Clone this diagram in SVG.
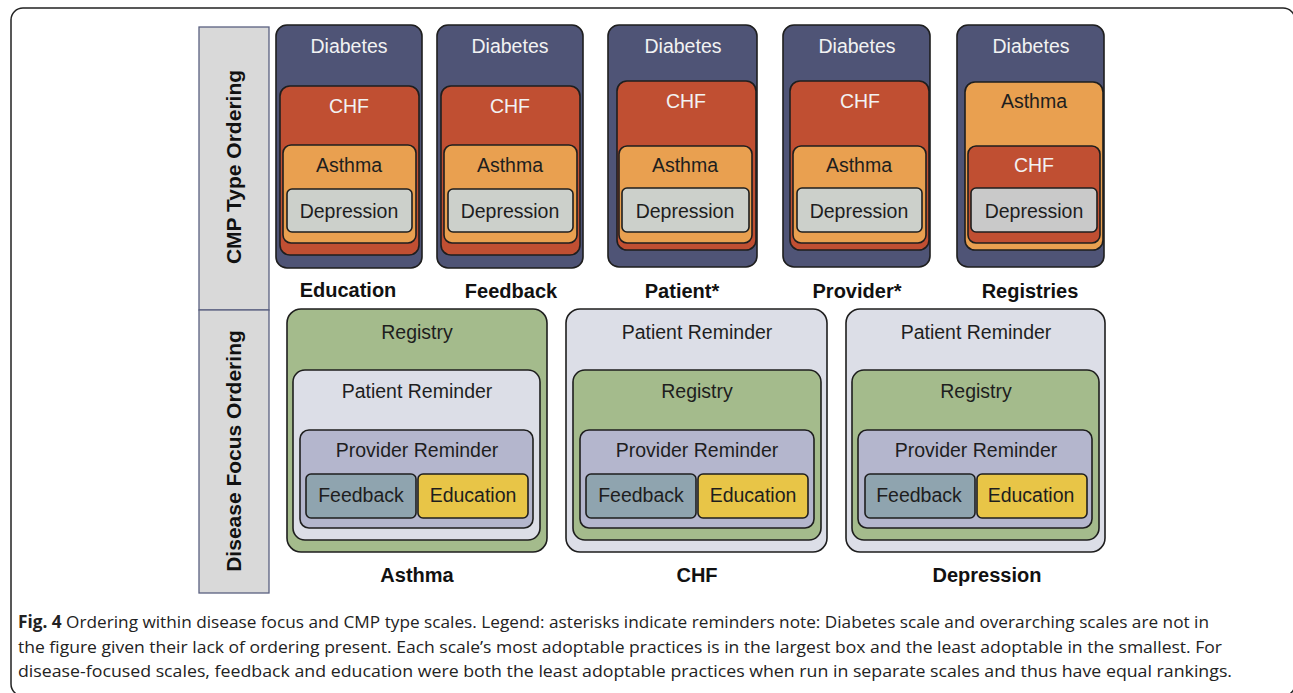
<svg xmlns="http://www.w3.org/2000/svg" width="1293" height="693" viewBox="0 0 1293 693">
<style>
text{font-family:"Liberation Sans",Arial,sans-serif;font-size:19.5px;text-anchor:middle}
.b{stroke:#1e1e1e;stroke-width:1.6}
.dia{fill:#4f5476}.chf{fill:#c04f32}.ast{fill:#e9a050}.dep{fill:#ccd0cb}.dep2{fill:#c9c9c9}
.reg{fill:#a4bb8c}.pat{fill:#dcdee7}.pro{fill:#b4b6cd}.fb{fill:#8fa4af}.ed{fill:#e8c547}
.w{fill:#f2f2f2}.k{fill:#1e1e1e}
.lbl{font-weight:bold;font-size:20px;fill:#111}
.side{fill:#d9d9d9;stroke:#5a6080;stroke-width:1.3}
.vt{font-weight:bold;font-size:21px;fill:#111}
.cap{font-family:"Open Sans","Noto Sans",sans-serif;font-size:17px;text-anchor:start;fill:#222}
</style>
<rect x="11" y="8" width="1284" height="688" rx="12" fill="#fff" stroke="#222" stroke-width="1.5"/>

<g id="side-labels">
<rect class="side" x="199" y="27" width="70" height="283"/>
<rect class="side" x="199" y="310" width="70" height="283"/>
<text class="vt" transform="translate(241,167) rotate(-90)">CMP Type Ordering</text>
<text class="vt" transform="translate(241,451) rotate(-90)">Disease Focus Ordering</text>
</g>

<g id="education">
<rect class="b dia" x="276" y="25" width="146" height="243" rx="11"/>
<text class="w" x="349" y="53">Diabetes</text>
<rect class="b chf" x="280" y="86" width="139" height="169" rx="10"/>
<text class="w" x="349" y="113">CHF</text>
<rect class="b ast" x="283" y="145" width="133" height="98" rx="8"/>
<text class="k" x="349" y="172">Asthma</text>
<rect class="b dep" x="287" y="189" width="125" height="43" rx="5"/>
<text class="k" x="349" y="218">Depression</text>
<text class="lbl" x="348" y="297">Education</text>
</g>

<g id="feedback">
<rect class="b dia" x="437" y="25" width="146" height="243" rx="11"/>
<text class="w" x="510" y="53">Diabetes</text>
<rect class="b chf" x="441" y="86" width="139" height="169" rx="10"/>
<text class="w" x="510" y="113">CHF</text>
<rect class="b ast" x="444" y="145" width="133" height="98" rx="8"/>
<text class="k" x="510" y="172">Asthma</text>
<rect class="b dep" x="448" y="189" width="125" height="43" rx="5"/>
<text class="k" x="510" y="218">Depression</text>
<text class="lbl" x="511" y="298">Feedback</text>
</g>

<g id="patient">
<rect class="b dia" x="608" y="25" width="149" height="242" rx="11"/>
<text class="w" x="683" y="53">Diabetes</text>
<rect class="b chf" x="617" y="81" width="139" height="169" rx="10"/>
<text class="w" x="686" y="108">CHF</text>
<rect class="b ast" x="619" y="146" width="133" height="97" rx="8"/>
<text class="k" x="685" y="172">Asthma</text>
<rect class="b dep" x="622" y="188" width="127" height="44" rx="5"/>
<text class="k" x="685" y="218">Depression</text>
<text class="lbl" x="682" y="298">Patient*</text>
</g>

<g id="provider">
<rect class="b dia" x="783" y="25" width="147" height="242" rx="11"/>
<text class="w" x="857" y="53">Diabetes</text>
<rect class="b chf" x="790" y="81" width="139" height="169" rx="10"/>
<text class="w" x="860" y="108">CHF</text>
<rect class="b ast" x="793" y="146" width="133" height="97" rx="8"/>
<text class="k" x="859" y="172">Asthma</text>
<rect class="b dep" x="797" y="188" width="125" height="44" rx="5"/>
<text class="k" x="859" y="218">Depression</text>
<text class="lbl" x="857" y="298">Provider*</text>
</g>

<g id="registries">
<rect class="b dia" x="957" y="25" width="147" height="242" rx="11"/>
<text class="w" x="1031" y="53">Diabetes</text>
<rect class="b ast" x="965" y="82" width="138" height="168" rx="10"/>
<text class="k" x="1034" y="108">Asthma</text>
<rect class="b chf" x="968" y="146" width="132" height="97" rx="8"/>
<text class="w" x="1034" y="172">CHF</text>
<rect class="b dep2" x="971" y="188" width="126" height="44" rx="5"/>
<text class="k" x="1034" y="218">Depression</text>
<text class="lbl" x="1030" y="298">Registries</text>
</g>

<g id="asthma">
<rect class="b reg" x="287" y="309" width="260" height="243" rx="14"/>
<text class="k" x="417" y="339">Registry</text>
<rect class="b pat" x="293" y="370" width="247" height="170" rx="12"/>
<text class="k" x="417" y="398">Patient Reminder</text>
<rect class="b pro" x="300" y="430" width="233" height="98" rx="9"/>
<text class="k" x="417" y="457">Provider Reminder</text>
<rect class="b fb" x="306" y="474" width="110" height="44" rx="5"/>
<text class="k" x="361" y="502">Feedback</text>
<rect class="b ed" x="418" y="474" width="110" height="44" rx="5"/>
<text class="k" x="473" y="502">Education</text>
<text class="lbl" x="417" y="582">Asthma</text>
</g>

<g id="chf">
<rect class="b pat" x="566" y="309" width="261" height="243" rx="14"/>
<text class="k" x="697" y="339">Patient Reminder</text>
<rect class="b reg" x="573" y="370" width="248" height="170" rx="12"/>
<text class="k" x="697" y="398">Registry</text>
<rect class="b pro" x="580" y="430" width="234" height="98" rx="9"/>
<text class="k" x="697" y="457">Provider Reminder</text>
<rect class="b fb" x="586" y="474" width="110" height="44" rx="5"/>
<text class="k" x="641" y="502">Feedback</text>
<rect class="b ed" x="698" y="474" width="110" height="44" rx="5"/>
<text class="k" x="753" y="502">Education</text>
<text class="lbl" x="697" y="582">CHF</text>
</g>

<g id="depression">
<rect class="b pat" x="846" y="309" width="259" height="243" rx="14"/>
<text class="k" x="976" y="339">Patient Reminder</text>
<rect class="b reg" x="852" y="370" width="247" height="170" rx="12"/>
<text class="k" x="976" y="398">Registry</text>
<rect class="b pro" x="858" y="430" width="234" height="98" rx="9"/>
<text class="k" x="976" y="457">Provider Reminder</text>
<rect class="b fb" x="865" y="474" width="110" height="44" rx="5"/>
<text class="k" x="919" y="502">Feedback</text>
<rect class="b ed" x="977" y="474" width="110" height="44" rx="5"/>
<text class="k" x="1031" y="502">Education</text>
<text class="lbl" x="987" y="582">Depression</text>
</g>

<g id="connectors"></g>

<g id="caption">
<text class="cap" x="18" y="628" textLength="1191" lengthAdjust="spacingAndGlyphs"><tspan font-weight="bold">Fig. 4</tspan> Ordering within disease focus and CMP type scales. Legend: asterisks indicate reminders note: Diabetes scale and overarching scales are not in</text>
<text class="cap" x="18" y="653" textLength="1204" lengthAdjust="spacingAndGlyphs">the figure given their lack of ordering present. Each scale’s most adoptable practices is in the largest box and the least adoptable in the smallest. For</text>
<text class="cap" x="18" y="677" textLength="1214" lengthAdjust="spacingAndGlyphs">disease-focused scales, feedback and education were both the least adoptable practices when run in separate scales and thus have equal rankings.</text>
</g>
</svg>
